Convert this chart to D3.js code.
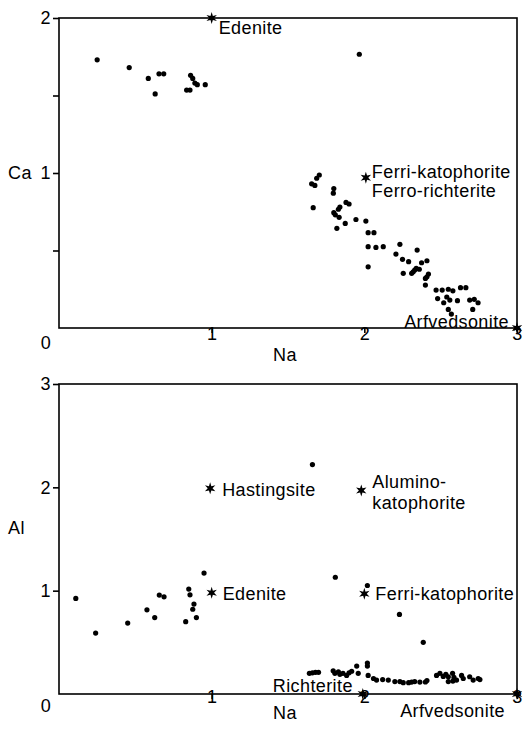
<!DOCTYPE html>
<html>
<head>
<meta charset="utf-8">
<script src="https://cdn.jsdelivr.net/npm/d3@7/dist/d3.min.js"></script>
<style>
    body { margin: 0; background: #fff; }
    svg { display: block; }
    text { font-family: "Liberation Sans", Arial, Helvetica, sans-serif; fill: #000; letter-spacing: 0.4px; }
    .axis path { display: none; }
    .axis line, .frame { stroke: #000; stroke-width: 1.6; fill: none; }
    .axis text { font-size: 18px; }
    .label { font-size: 18px; }
</style>
</head>
<body>
<svg id="chart" width="525" height="729"></svg>
<script>
    // tick values
    var naTicks = [1, 2, 3];
    var caTicks = [0.5, 1, 1.5, 2];
    var caTickLabels = { 1: "1", 2: "2" };
    var alTicks = [1, 2, 3];

    // analyses, [Na, Ca]
    var caPoints = [
        [0.25, 1.73], [0.46, 1.68], [0.585, 1.61], [0.655, 1.64], [0.686, 1.64], [0.63, 1.51],
        [0.836, 1.535], [0.858, 1.535], [0.862, 1.63], [0.876, 1.61], [0.89, 1.58], [0.906, 1.57],
        [0.958, 1.57], [1.967, 1.766],
        [1.655, 0.93], [1.676, 0.92], [1.688, 0.966], [1.705, 0.987], [1.665, 0.776],
        [1.80, 0.90], [1.797, 0.87],
        [1.90, 0.80], [1.88, 0.81], [1.84, 0.78], [1.83, 0.766], [1.80, 0.744], [1.81, 0.73],
        [1.835, 0.714], [1.82, 0.643], [1.875, 0.675],
        [1.945, 0.70], [2.01, 0.69], [2.025, 0.615], [2.063, 0.615], [2.025, 0.525], [2.076, 0.52],
        [2.124, 0.525], [2.025, 0.395],
        [2.233, 0.54], [2.207, 0.477], [2.25, 0.443], [2.29, 0.428], [2.346, 0.503], [2.41, 0.434],
        [2.375, 0.421],
        [2.255, 0.353], [2.31, 0.353], [2.33, 0.374], [2.34, 0.385], [2.36, 0.379], [2.32, 0.363],
        [2.42, 0.348], [2.41, 0.33], [2.40, 0.32], [2.40, 0.277],
        [2.47, 0.245], [2.51, 0.245], [2.55, 0.25], [2.58, 0.24], [2.63, 0.26], [2.665, 0.26],
        [2.48, 0.19], [2.54, 0.20], [2.56, 0.18], [2.61, 0.176], [2.52, 0.163], [2.55, 0.12],
        [2.57, 0.09],
        [2.69, 0.18], [2.72, 0.185], [2.745, 0.163], [2.71, 0.12]
    ];

    // analyses, [Na, Al]
    var alPoints = [
        [0.11, 0.925], [0.24, 0.59], [0.45, 0.686], [0.576, 0.815], [0.627, 0.74], [0.657, 0.957],
        [0.688, 0.94], [0.85, 1.015], [0.858, 0.96], [0.884, 0.87], [0.876, 0.82], [0.83, 0.70],
        [0.90, 0.74], [0.95, 1.17],
        [1.66, 2.22], [1.81, 1.13], [2.02, 1.05], [2.23, 0.77], [2.386, 0.50],
        [1.64, 0.20], [1.66, 0.205], [1.68, 0.21], [1.70, 0.21],
        [1.796, 0.225], [1.807, 0.20], [1.83, 0.215], [1.84, 0.19], [1.86, 0.20], [1.884, 0.18],
        [1.90, 0.205], [1.917, 0.22],
        [1.95, 0.27], [1.96, 0.20], [2.02, 0.30], [2.02, 0.27], [2.025, 0.18],
        [2.06, 0.15], [2.08, 0.135], [2.12, 0.14], [2.157, 0.135],
        [2.20, 0.12], [2.233, 0.12], [2.255, 0.11], [2.29, 0.11], [2.31, 0.115], [2.33, 0.12],
        [2.364, 0.115], [2.40, 0.116], [2.41, 0.13],
        [2.473, 0.18], [2.495, 0.20], [2.517, 0.17], [2.534, 0.19], [2.55, 0.167], [2.578, 0.20],
        [2.587, 0.16], [2.604, 0.135], [2.637, 0.18], [2.648, 0.15], [2.69, 0.167], [2.713, 0.135],
        [2.746, 0.15], [2.757, 0.14], [2.55, 0.12], [2.58, 0.125]
    ];

    // end-member compositions
    var caMembers = [
        { name: ["Edenite"], na: 1, v: 2 },
        { name: ["Ferri-katophorite", "Ferro-richterite"], na: 2.01, v: 0.97 },
        { name: ["Arfvedsonite"], na: 3, v: 0 }
    ];
    var alMembers = [
        { name: ["Hastingsite"], na: 0.99, v: 1.99 },
        { name: ["Alumino-", "katophorite"], na: 1.98, v: 1.97 },
        { name: ["Edenite"], na: 1, v: 0.98 },
        { name: ["Ferri-katophorite"], na: 2, v: 0.97 },
        { name: ["Richterite"], na: 1.99, v: 0 },
        { name: ["Arfvedsonite"], na: 3, v: 0 }
    ];

    var svg = d3.select("#chart");
    var left = 59, right = 517;

    // where each end-member label sits relative to its star: dx, dy, anchor, line step
    var topLabels = [[7, 16, "start", 19], [6, 0, "start", 19], [-8, 0, "end", 19]];
    var bottomLabels = [[12, 8, "start", 20], [11, -2, "start", 21], [11, 7, "start", 20],
        [11, 6, "start", 20], [-10, -2, "end", 20], [-12, 23, "end", 20]];

    function starPath(r) {
        var pts = [];
        for (var i = 0; i < 12; i++) {
            var a = Math.PI / 6 * i;
            var rr = i % 2 == 0 ? r : r * 0.4;
            pts.push([Math.sin(a) * rr, -Math.cos(a) * rr]);
        }
        return "M" + pts.join("L") + "Z";
    }

    function drawPanel(opts) {
        var x = d3.scaleLinear().domain([0, 3]).range([left, right]);
        var y = d3.scaleLinear().domain(opts.domain).range([opts.bottom, opts.top]);
        var g = svg.append("g");

        g.append("rect").classed("frame", true)
            .attr("x", left).attr("y", opts.top)
            .attr("width", right - left).attr("height", opts.bottom - opts.top);

        g.append("g").classed("axis", true)
            .attr("transform", "translate(" + left + ",0)")
            .call(d3.axisLeft(y).tickValues(opts.yTicks).tickSize(6).tickPadding(2)
                .tickFormat(opts.yFormat));

        var xa = g.append("g").classed("axis", true)
            .attr("transform", "translate(0," + opts.bottom + ")")
            .call(d3.axisBottom(x).tickValues(naTicks).tickSize(5).tickPadding(opts.xPad)
                .tickFormat(d3.format("d")));
        xa.selectAll("text").attr("dy", "0");

        // corner zero
        g.append("text").classed("label", true)
            .attr("x", left - 13).attr("y", opts.bottom + opts.xPad + 14)
            .attr("text-anchor", "middle").text("0");

        g.append("text").classed("label", true)
            .attr("x", 285).attr("y", opts.bottom + opts.naDy)
            .attr("text-anchor", "middle").text("Na");
        g.append("text").classed("label", true)
            .attr("x", 8).attr("y", opts.yTitleY).text(opts.yTitle);

        g.selectAll("circle").data(opts.points).enter().append("circle")
            .attr("cx", function (d) { return x(d[0]); })
            .attr("cy", function (d) { return y(d[1]); })
            .attr("r", 2.6)
            .attr("fill", "#000");

        var m = g.selectAll(".member").data(opts.members).enter().append("g")
            .classed("member", true)
            .attr("transform", function (d) { return "translate(" + x(d.na) + "," + y(d.v) + ")"; });
        m.append("path").attr("d", starPath(6)).attr("fill", "#000");
        m.each(function (d, i) {
            var pos = opts.labels[i];
            var t = d3.select(this).append("text").classed("label", true)
                .attr("text-anchor", pos[2]);
            d.name.forEach(function (line, j) {
                t.append("tspan").attr("x", pos[0]).attr("y", pos[1] + j * pos[3]).text(line);
            });
        });
    }

    drawPanel({
        domain: [0, 2], top: 18, bottom: 328,
        yTicks: caTicks,
        yFormat: function (d) { return caTickLabels[d] || ""; },
        xPad: 7, naDy: 33, yTitle: "Ca", yTitleY: 179,
        points: caPoints, members: caMembers, labels: topLabels
    });

    drawPanel({
        domain: [0, 3], top: 384, bottom: 694,
        yTicks: alTicks,
        yFormat: d3.format("d"),
        xPad: 4, naDy: 25, yTitle: "Al", yTitleY: 534,
        points: alPoints, members: alMembers, labels: bottomLabels
    });
</script>
</body>
</html>
